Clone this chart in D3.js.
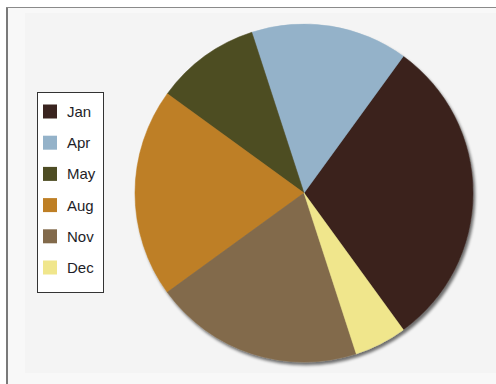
<!DOCTYPE html>
<html>
<head>
<meta charset="utf-8">
<script src="https://cdn.jsdelivr.net/npm/d3@7"></script>
<style>
  html, body { margin: 0; padding: 0; background: #ffffff; }
  svg { display: block; }
</style>
</head>
<body>
<svg id="chart" width="496" height="384"></svg>
<script>
// ---- data ----
const months = ["Jan", "Apr", "May", "Aug", "Nov", "Dec"];
const values = [30, 15, 10, 20, 20, 5];
const colors = ["#3a241f", "#94b2c9", "#4e4d24", "#be7f25", "#826a4b", "#f0e68c"];

const W = 496, H = 384;
const svg = d3.select("#chart");

// background panels
svg.append("rect").attr("x", 7).attr("y", 7).attr("width", W - 7).attr("height", H - 7)
  .attr("fill", "#f8f8f8");
svg.append("rect").attr("x", 25).attr("y", 13).attr("width", W - 25).attr("height", 360)
  .attr("fill", "#f4f4f4");
svg.append("line").attr("x1", 7).attr("x2", 7).attr("y1", 7).attr("y2", H)
  .attr("stroke", "#7a7a7a").attr("stroke-width", 2);
svg.append("line").attr("x1", 6).attr("x2", W).attr("y1", 7.5).attr("y2", 7.5)
  .attr("stroke", "#8a8a8a").attr("stroke-width", 1);

// shadow filter
const defs = svg.append("defs");
const f = defs.append("filter").attr("id", "shadow")
  .attr("x", "-10%").attr("y", "-10%").attr("width", "120%").attr("height", "120%");
f.append("feGaussianBlur").attr("in", "SourceAlpha").attr("stdDeviation", 1.8).attr("result", "b");
f.append("feOffset").attr("in", "b").attr("dx", 2).attr("dy", 3).attr("result", "o");
f.append("feComponentTransfer").attr("in", "o").attr("result", "s")
  .append("feFuncA").attr("type", "linear").attr("slope", 0.55);
const m = f.append("feMerge");
m.append("feMergeNode").attr("in", "s");
m.append("feMergeNode").attr("in", "SourceGraphic");

// pie
const cx = 304, cy = 193, r = 169;
const startDeg = 144;
const pie = d3.pie().sort(null)
  .startAngle(startDeg * Math.PI / 180)
  .endAngle((startDeg - 360) * Math.PI / 180);
const arc = d3.arc().innerRadius(0).outerRadius(r);
const color = d3.scaleOrdinal().domain(months).range(colors);

const data = months.map((m, i) => ({ month: m, value: values[i] }));

const g = svg.append("g").attr("transform", `translate(${cx},${cy})`)
  .attr("filter", "url(#shadow)");
g.selectAll("path").data(pie.value(d => d.value)(data)).join("path")
  .attr("d", arc)
  .attr("fill", d => color(d.data.month))
  .attr("stroke", d => color(d.data.month))
  .attr("stroke-width", 0.5);

// legend
const lx = 37, ly = 92, lw = 66, lh = 200;
const leg = svg.append("g");
leg.append("rect").attr("x", lx + 0.5).attr("y", ly + 0.5).attr("width", lw).attr("height", lh)
  .attr("fill", "#ffffff").attr("stroke", "#333333").attr("stroke-width", 1);
const ly0 = d3.scalePoint().domain(months).range([111.5, 111.5 + 31.2 * 5]);
const items = leg.selectAll("g.item").data(months).join("g").attr("class", "item")
  .attr("transform", d => `translate(0,${ly0(d)})`);
items.append("rect").attr("x", 43).attr("y", -7).attr("width", 14).attr("height", 14)
  .attr("fill", d => color(d));
items.append("text").attr("x", 67).attr("y", 0).attr("dy", "0.36em")
  .attr("font-family", "Liberation Sans, Arial, sans-serif").attr("font-size", 15)
  .attr("fill", "#1e1e28").text(d => d);
</script>
</body>
</html>
